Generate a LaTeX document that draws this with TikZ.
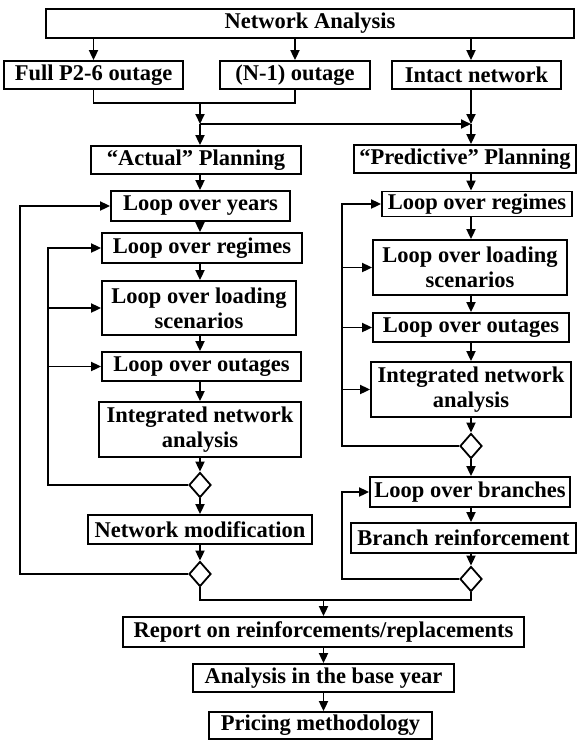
\documentclass[tikz,border=0pt]{standalone}
\usepackage{fontspec}
\setmainfont{Liberation Serif}
\usetikzlibrary{arrows.meta,positioning,calc,shapes.geometric}

\tikzset{
  stage/.style 2 args={draw, line width=1.8pt, minimum width=#1, minimum height=#2,
    inner sep=0pt, align=center, font=\bfseries\fontsize{22.5}{25}\selectfont},
  check/.style={draw, diamond, line width=1.8pt, minimum width=22pt, minimum height=25pt, inner sep=0pt},
  flow/.style={line width=1.8pt, -{Triangle[length=10pt,width=9pt]}},
  link/.style={line width=1.8pt},
}

\begin{document}
\begin{tikzpicture}[x=1pt,y=-1pt]
\useasboundingbox (0,0) rectangle (577,740);

% columns of the two planning branches
\coordinate (colL) at (200,0);
\coordinate (colR) at (471,0);
\coordinate (outerL) at (20,0);
\coordinate (innerL) at (48,0);
\coordinate (innerR) at (342,0);

\node[stage={528pt}{29pt}] (na) at (310,23.5) {Network Analysis};
\node[stage={179pt}{28pt}] (full) at (93.5,75) {Full P2-6 outage};
\node[stage={150pt}{28pt}] (nm1) at (295,75) {(N-1) outage};
\node[stage={169pt}{28pt}] (intact) at (476.5,75) {Intact network};

\node[stage={210pt}{28pt}] (actual) at (196,160) {``Actual'' Planning};
\node[stage={222pt}{28pt}] (pred) at (465,159) {``Predictive'' Planning};

% actual planning
\node[stage={179pt}{30pt}] (years) at (200.5,206) {Loop over years};
\node[stage={200pt}{30pt}] (regL) at (202,248) {Loop over regimes};
\node[stage={194pt}{54pt}] (loadL) at (199,308) {Loop over loading\\scenarios};
\node[stage={199pt}{29pt}] (outL) at (201.5,366.5) {Loop over outages};
\node[stage={202pt}{55pt}] (intL) at (200,429.5) {Integrated network\\analysis};
\node[check] (dL1) at (200,485) {};
\node[stage={224pt}{29pt}] (netmod) at (200,529.5) {Network modification};
\node[check] (dL2) at (200,574) {};

% predictive planning
\node[stage={190pt}{25pt}] (regR) at (477,204) {Loop over regimes};
\node[stage={194pt}{55pt}] (loadR) at (470,267.5) {Loop over loading\\scenarios};
\node[stage={196pt}{29pt}] (outR) at (471,327.5) {Loop over outages};
\node[stage={200pt}{55pt}] (intR) at (471,389.5) {Integrated network\\analysis};
\node[check] (dR1) at (471,446) {};
\node[stage={200pt}{30pt}] (branches) at (470,492) {Loop over branches};
\node[stage={225pt}{30pt}] (brreinf) at (463.5,538) {Branch reinforcement};
\node[check] (dR2) at (471,579) {};

\node[stage={401pt}{30pt}] (report) at (323.5,632) {Report on reinforcements/replacements};
\node[stage={261pt}{28pt}] (analysis) at (323.5,678) {Analysis in the base year};
\node[stage={223pt}{27pt}] (pricing) at (320.5,725.5) {Pricing methodology};

% top part
\draw[flow] (na.south -| full) -- (full.north);
\draw[flow] (na.south -| nm1) -- (nm1.north);
\draw[flow] (na.south -| colR) -- (intact.north -| colR);
\coordinate (m1) at (200,103);
\coordinate (j1) at (200,124);
\coordinate (j2) at (471,124);
\draw[link] (full.south) |- (m1) -| (nm1.south);
\draw[flow] (m1) -- (j1);
\draw[flow] (j1) -- (actual.north -| j1);
\draw[flow] (j1) -- (j2);
\draw[flow] (intact.south -| colR) -- (j2);
\draw[flow] (j2) -- (pred.north -| colR);

% left chain
\draw[flow] (actual.south -| colL) -- (years.north -| colL);
\draw[flow] (years.south -| colL) -- (regL.north -| colL);
\draw[flow] (regL.south -| colL) -- (loadL.north -| colL);
\draw[flow] (loadL.south -| colL) -- (outL.north -| colL);
\draw[flow] (outL.south -| colL) -- (intL.north -| colL);
\draw[flow] (intL.south -| colL) -- (dL1.north);
\draw[flow] (dL1.south) -- (netmod.north -| colL);
\draw[flow] (netmod.south -| colL) -- (dL2.north);
\draw[flow] (dL1.west) -| (innerL |- regL.west) -- (regL.west);
\draw[flow] (innerL |- loadL.west) -- (loadL.west);
\draw[flow] (innerL |- outL.west) -- (outL.west);
\draw[flow] (dL2.west) -| (outerL |- years.west) -- (years.west);

% right chain
\draw[flow] (pred.south -| colR) -- (regR.north -| colR);
\draw[flow] (regR.south -| colR) -- (loadR.north -| colR);
\draw[flow] (loadR.south -| colR) -- (outR.north -| colR);
\draw[flow] (outR.south -| colR) -- (intR.north -| colR);
\draw[flow] (intR.south -| colR) -- (dR1.north);
\draw[flow] (dR1.south) -- (branches.north -| colR);
\draw[flow] (branches.south -| colR) -- (brreinf.north -| colR);
\draw[flow] (brreinf.south -| colR) -- (dR2.north);
\draw[flow] (dR1.west) -| (innerR |- regR.west) -- (regR.west);
\draw[flow] (innerR |- loadR.west) -- (loadR.west);
\draw[flow] (innerR |- outR.west) -- (outR.west);
\draw[flow] (innerR |- intR.west) -- (intR.west);
\draw[flow] (dR2.west) -| (innerR |- branches.west) -- (branches.west);

% bottom part
\coordinate (m2) at (323.5,600);
\draw[link] (dL2.south) |- (m2) -| (dR2.south);
\draw[flow] (m2) -- (report.north);
\draw[flow] (report.south) -- (analysis.north);
\draw[flow] (analysis.south) -- (analysis.south |- pricing.north);
\end{tikzpicture}
\end{document}
